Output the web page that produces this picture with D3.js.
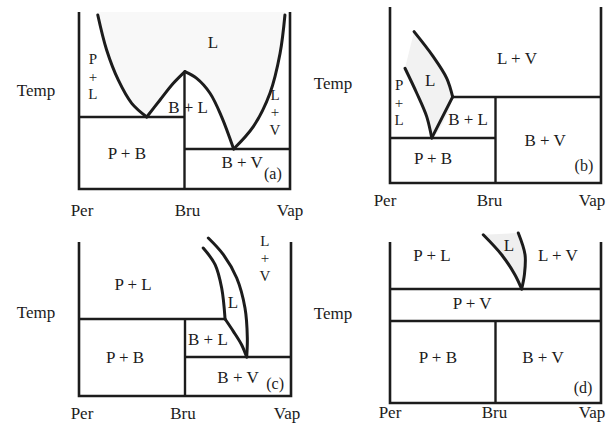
<!DOCTYPE html>
<html><head><meta charset="utf-8">
<script src="https://cdn.jsdelivr.net/npm/d3@7"></script>
<style>body{margin:0;background:#fff}</style>
</head><body><svg id="chart" width="611" height="427"></svg>
<script>
// ---------- data (composition 0..1 : Per -> Vap, temperature 0..1) ----------
const categories = ["Per", "Bru", "Vap"];
const categoryX = [0, 0.5, 1];
const yLabel = "Temp";
const panelTags = ["(a)", "(b)", "(c)", "(d)"];

// panel (a)
const aLiquidusLeft = [[0.089,0.983],[0.131,0.785],[0.186,0.616],[0.250,0.484],[0.321,0.407]];
const aRise = [[0.321,0.407],[0.384,0.503],[0.447,0.597],[0.502,0.663]];
const aFall = [[0.502,0.663],[0.558,0.625],[0.621,0.541],[0.676,0.408],[0.733,0.226]];
const aLiquidusRight = [[0.733,0.226],[0.826,0.352],[0.905,0.541],[0.953,0.767],[0.976,0.983]];
const aTies = [[[0,0.407],[0.5,0.407]], [[0.5,0.226],[1,0.226]], [[0.5,0],[0.5,0.663]]];
// stacked labels use "|" as line break
const aLabels = [["L",0.635,0.825],["P|+|L",0.066,0.633],
  ["B + L",0.517,0.458],["L|+|V",0.929,0.435],
  ["P + B",0.227,0.203],["B + V",0.773,0.147]];

// panel (b)
const bOuter = [[0.114,0.860],[0.205,0.718],[0.269,0.595],[0.297,0.489]];
const bInner = [[0.071,0.652],[0.127,0.510],[0.174,0.377],[0.198,0.256]];
const bPeritectic = [[0.198,0.256],[0.297,0.489]];
const bTies = [[[0.297,0.489],[1,0.489]], [[0,0.256],[0.5,0.256]], [[0.5,0],[0.5,0.489]]];
const bLabels = [["L + V",0.602,0.710],["L",0.190,0.585],["P|+|L",0.043,0.455],
  ["B + L",0.370,0.358],["B + V",0.735,0.244],["P + B",0.204,0.142]];

// panel (c)
const cOuter = [[0.610,1.026],[0.681,0.918],[0.744,0.766],[0.783,0.571],[0.794,0.377],[0.791,0.253]];
const cInner = [[0.586,0.961],[0.642,0.853],[0.673,0.701],[0.689,0.500]];
const cLower = [[0.689,0.500],[0.728,0.420],[0.767,0.333],[0.791,0.253]];
const cTies = [[[0,0.500],[0.689,0.500]], [[0.5,0.253],[1,0.253]], [[0.5,0],[0.5,0.500]]];
const cLabels = [["P + L",0.255,0.721],["L",0.726,0.610],["L|+|V",0.877,0.896],
  ["B + L",0.608,0.364],["P + B",0.217,0.253],["B + V",0.750,0.123]];

// panel (d)
const dLeft = [[0.442,1.045],[0.529,0.921],[0.592,0.797],[0.624,0.708]];
const dRight = [[0.608,1.056],[0.640,0.921],[0.637,0.797],[0.624,0.708]];
const dTies = [[[0,0.708],[1,0.708]], [[0,0.509],[1,0.509]], [[0.5,0],[0.5,0.509]]];
const dLabels = [["P + L",0.199,0.919],["L",0.564,0.981],["L + V",0.796,0.919],["P + V",0.389,0.621],
  ["P + B",0.227,0.280],["B + V",0.725,0.280]];

const tagPos = [[0.919,0.090],[0.919,0.102],[0.925,0.084],[0.915,0.099]];

// ---------- layout ----------
const panels = [
  {frame:[79,290,12,189], tickY:210, tickDx:[3,3,0], temp:[36,90],
   curves:[aLiquidusLeft,aRise,aFall,aLiquidusRight], ties:aTies, labels:aLabels,
   fill:[[aLiquidusLeft[0][0],1], ...aLiquidusLeft, ...aRise, ...aFall, ...aLiquidusRight, [aLiquidusRight[4][0],1]], fillColor:"#f8f8f8"},
  {frame:[390,601,7,183], tickY:200, tickDx:[-5,-6,-9], temp:[333,83],
   curves:[bOuter,bInner,bPeritectic], ties:bTies, labels:bLabels,
   fill:[...bOuter, ...bInner.slice().reverse()], fillColor:"#f2f2f2"},
  {frame:[79,291,242,396], tickY:413, tickDx:[3,-2,-4], temp:[36,312],
   curves:[cOuter,cInner,cLower], ties:cTies, labels:cLabels, fill:null},
  {frame:[390,601,242,403], tickY:412, tickDx:[0,-1,-9], temp:[333,313],
   curves:[dLeft,dRight], ties:dTies, labels:dLabels,
   fill:[...dLeft, ...dRight.slice().reverse()], fillColor:"#efefef"}
];

const svg = d3.select("#chart");
const ink = "#1c1c1c";
const font = "'Liberation Serif','Times New Roman',serif";
const fs = 17;

panels.forEach((p, i) => {
  const [x0, x1, yT, yB] = p.frame;
  const x = d3.scaleLinear().domain([0,1]).range([x0,x1]);
  const y = d3.scaleLinear().domain([0,1]).range([yB,yT]);
  const g = svg.append("g");
  const smooth = d3.line().x(d=>x(d[0])).y(d=>y(d[1])).curve(d3.curveCatmullRom.alpha(0.5));
  const straight = d3.line().x(d=>x(d[0])).y(d=>y(d[1]));

  if (p.fill) {
    g.append("path").attr("d", smooth(p.fill) + "Z").attr("fill", p.fillColor).attr("stroke","none");
  }
  p.ties.forEach(t => g.append("path").attr("d", straight(t))
    .attr("stroke", ink).attr("stroke-width", 2.4).attr("fill","none"));
  g.append("path").attr("d", straight([[0,1],[0,0],[1,0],[1,1]]))
    .attr("stroke", ink).attr("stroke-width", 2.6).attr("fill","none").attr("stroke-linejoin","miter");
  p.curves.forEach(c => g.append("path").attr("d", c.length > 2 ? smooth(c) : straight(c))
    .attr("stroke", ink).attr("stroke-width", 3).attr("fill","none").attr("stroke-linecap","round"));

  // region labels; stacked ones are separate small texts one above another
  p.labels.forEach(l => {
    const parts = l[0].split("|");
    if (parts.length === 1) {
      g.append("text").attr("text-anchor","middle").attr("font-family", font)
        .attr("font-size", fs).attr("fill", ink)
        .attr("x", x(l[1])).attr("y", y(l[2])).attr("dominant-baseline","central").text(l[0]);
    } else {
      const step = 17.5;
      const yc = y(l[2]);
      parts.forEach((s, k) => g.append("text").attr("text-anchor","middle").attr("font-family", font)
        .attr("font-size", 15).attr("fill", ink).attr("dominant-baseline","central")
        .attr("x", x(l[1])).attr("y", yc + (k - (parts.length-1)/2) * step).text(s));
    }
  });
  g.append("text").attr("x", x(tagPos[i][0])).attr("y", y(tagPos[i][1]))
    .attr("text-anchor","middle").attr("dominant-baseline","central")
    .attr("font-family", font).attr("font-size", 16).attr("fill", ink).text(panelTags[i]);
  categories.forEach((c, k) => g.append("text").attr("x", x(categoryX[k]) + p.tickDx[k]).attr("y", p.tickY)
    .attr("text-anchor","middle").attr("dominant-baseline","central")
    .attr("font-family", font).attr("font-size", fs).attr("fill", ink).text(c));
  g.append("text").attr("x", p.temp[0]).attr("y", p.temp[1])
    .attr("text-anchor","middle").attr("dominant-baseline","central")
    .attr("font-family", font).attr("font-size", fs).attr("fill", ink).text(yLabel);
});
</script></body></html>
